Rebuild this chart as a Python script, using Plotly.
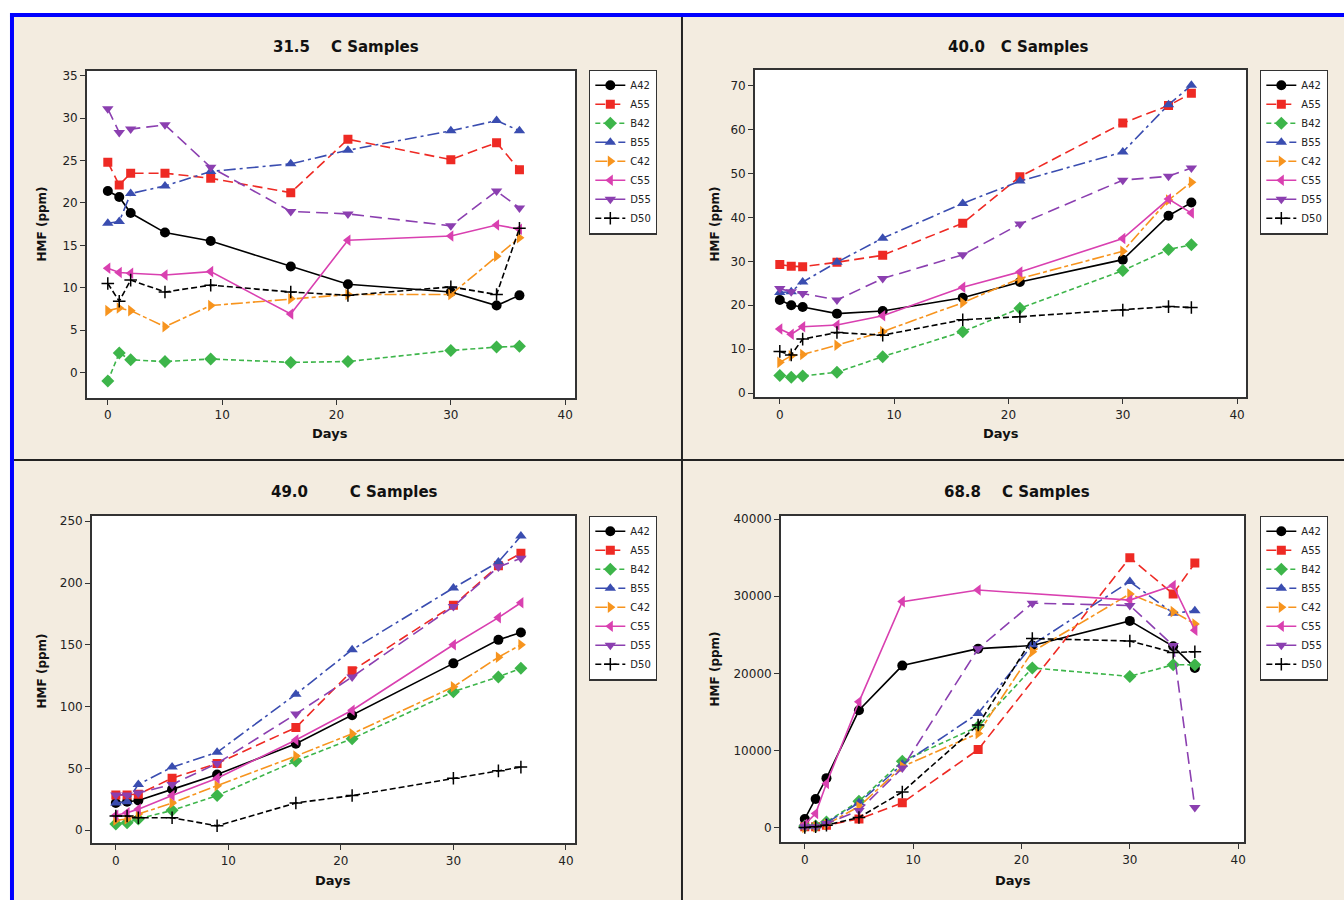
import plotly.graph_objects as go

W, H = 1344, 900

days = [0, 1, 2, 5, 9, 16, 21, 30, 34, 36]
series_names = ["A42", "A55", "B42", "B55", "C42", "C55", "D55", "D50"]

# 31.5 C
t31_A42 = [21.4, 20.7, 18.8, 16.5, 15.5, 12.5, 10.4, 9.5, 7.9, 9.1]
t31_A55 = [24.8, 22.1, 23.5, 23.5, 22.9, 21.2, 27.5, 25.1, 27.1, 23.9]
t31_B42 = [-1.0, 2.3, 1.5, 1.3, 1.6, 1.2, 1.3, 2.6, 3.0, 3.1]
t31_B55 = [17.6, 17.8, 21.1, 22.0, 23.7, 24.6, 26.2, 28.5, 29.7, 28.5]
t31_C42 = [7.3, 7.6, 7.3, 5.4, 7.9, 8.7, 9.2, 9.2, 13.7, 15.9]
t31_C55 = [12.3, 11.8, 11.7, 11.5, 11.9, 6.9, 15.6, 16.1, 17.4, 16.9]
t31_D55 = [31.1, 28.3, 28.7, 29.2, 24.2, 19.0, 18.7, 17.3, 21.4, 19.4]
t31_D50 = [10.5, 8.4, 10.9, 9.5, 10.3, 9.5, 9.1, 10.1, 9.2, 17.0]

# 40.0 C
t40_A42 = [21.2, 20.0, 19.6, 18.1, 18.7, 21.7, 25.3, 30.4, 40.4, 43.4]
t40_A55 = [29.3, 28.9, 28.8, 29.8, 31.4, 38.7, 49.3, 61.5, 65.5, 68.3]
t40_B42 = [4.0, 3.6, 3.9, 4.75, 8.3, 14.0, 19.3, 27.9, 32.7, 33.8]
t40_B55 = [22.9, 23.1, 25.3, 29.8, 35.3, 43.2, 48.3, 54.9, 65.7, 70.1]
t40_C42 = [7.0, 8.5, 8.8, 10.9, 14.0, 20.6, 26.1, 32.3, 44.0, 48.0]
t40_C55 = [14.6, 13.4, 15.1, 15.5, 17.6, 24.1, 27.6, 35.2, 44.2, 41.0]
t40_D55 = [23.8, 23.1, 22.7, 21.2, 26.1, 31.5, 38.5, 48.5, 49.4, 51.3]
t40_D50 = [9.5, 8.7, 12.3, 13.8, 13.2, 16.7, 17.4, 18.9, 19.7, 19.5]

# 49.0 C
t49_A42 = [22, 23, 24, 33, 45, 70, 93, 135, 154, 160]
t49_A55 = [28.5, 28.5, 29, 42, 54, 83, 129, 182, 214, 224]
t49_B42 = [5, 6, 9, 16, 28, 56, 74, 112, 124, 131]
t49_B55 = [22, 23, 37, 51, 63, 110, 146, 196, 217, 238]
t49_C42 = [8, 9, 13, 22, 36, 60, 78, 116, 140, 150]
t49_C55 = [12, 14, 17, 28, 42, 73, 97, 150, 172, 184]
t49_D55 = [28.5, 28.5, 30, 37, 54, 94, 124, 181, 213, 220]
t49_D50 = [11.5, 11.5, 10, 10, 3.5, 22, 28, 42, 48, 51]

# 68.8 C
t68_A42 = [1100, 3700, 6400, 15200, 21000, 23200, 23600, 26800, 23500, 20700]
t68_A55 = [100, 100, 300, 1100, 3200, 10100, None, 35000, 30300, 34300]
t68_B42 = [200, 200, 700, 3400, 8600, 13100, 20700, 19600, 21100, 21100]
t68_B55 = [100, 200, 600, 3200, 8200, 14800, 23700, 31900, 27800, 28100]
t68_C42 = [0, 100, 400, 2700, 7900, 12200, 22800, 30300, 28000, 26400]
t68_C55 = [400, 1800, 5700, 16300, 29300, 30800, None, 29500, 31400, 25600]
t68_D55 = [100, 100, 500, 2200, 7700, 23200, 29100, 28800, 23600, 2600]
t68_D50 = [0, 100, 300, 1300, 4600, 13300, 24500, 24200, 22700, 22800]

panel_titles = ["31.5\u00a0\u00a0\u00a0\u00a0C Samples", "40.0\u00a0\u00a0\u00a0C Samples",
                "49.0\u00a0\u00a0\u00a0\u00a0\u00a0\u00a0\u00a0\u00a0C Samples", "68.8\u00a0\u00a0\u00a0\u00a0C Samples"]
panel_data = [
    [t31_A42, t31_A55, t31_B42, t31_B55, t31_C42, t31_C55, t31_D55, t31_D50],
    [t40_A42, t40_A55, t40_B42, t40_B55, t40_C42, t40_C55, t40_D55, t40_D50],
    [t49_A42, t49_A55, t49_B42, t49_B55, t49_C42, t49_C55, t49_D55, t49_D50],
    [t68_A42, t68_A55, t68_B42, t68_B55, t68_C42, t68_C55, t68_D55, t68_D50],
]
y_ticks = [list(range(0, 36, 5)), list(range(0, 71, 10)), list(range(0, 251, 50)), list(range(0, 40001, 10000))]

colors = ["#000000", "#EE2A24", "#3DB54A", "#3A4DB0", "#F7941E", "#D940B0", "#8B3FB0", "#000000"]
symbols = ["circle", "square", "diamond", "triangle-up", "triangle-right", "triangle-left", "triangle-down", "cross-thin"]
dashes = ["solid", "10px,5px", "5px,3px", "12px,4px,3px,4px", "12px,3px,4px,3px", "solid", "12px,6px", "6px,3px"]
msizes = [10, 9, 10, 10, 10, 10, 10, 9]

# plot areas in pixels: (left, right, top, bottom), axis ranges
areas = [(87, 576, 68, 398), (756, 1248, 67, 397), (92, 576, 516, 846), (782, 1246, 516, 845)]
xranges = [(-1.83, 40.87), (-2.18, 40.79), (-2.13, 40.82), (-2.21, 40.55)]
yranges = [(-3.04, 35.6), (-0.97, 73.7), (-10.7, 254.6), (-1933, 40464)]
legend_pos = [(590, 67), (1262, 67), (590, 516), (1262, 516)]
title_pos = [(347, 44), (1020, 44), (355, 492), (1019, 492)]
days_pos = [(330, 433), (1002, 433), (333, 883), (1015, 883)]
ylab_pos = [(42, 222), (716, 222), (42, 672), (716, 670)]

fig = go.Figure()
layout = dict(width=W, height=H, margin=dict(l=0, r=0, t=0, b=0),
              paper_bgcolor="white", plot_bgcolor="white", showlegend=True)

font_main = "DejaVu Sans"
beige = "#F3ECE0"
shapes = [
    dict(type="rect", xref="paper", yref="paper", x0=12 / W, x1=1.01, y0=-0.01, y1=1 - 12 / H,
         fillcolor=beige, line=dict(width=0), layer="below"),
]
annotations = []
for p in range(4):
    sfx = "" if p == 0 else str(p + 1)
    leg = "legend" + sfx
    for i, name in enumerate(series_names):
        fig.add_trace(go.Scatter(
            x=days, y=panel_data[p][i], name=name, mode="lines+markers",
            xaxis="x" + sfx, yaxis="y" + sfx, legend=leg, connectgaps=True,
            line=dict(color=colors[i], width=1.6, dash=dashes[i]),
            marker=dict(symbol=symbols[i], size=msizes[i], color=colors[i],
                        line=dict(color=colors[i], width=1.5 if symbols[i] == "cross-thin" else 0)),
        ))
    l, r, t, b = areas[p]
    shapes.append(dict(type="rect", xref="paper", yref="paper", x0=l / W, x1=r / W,
                       y0=1 - b / H, y1=1 - t / H, fillcolor="white", line=dict(width=0), layer="below"))
    axcommon = dict(showline=True, mirror=True, linecolor="#333333", linewidth=1.5,
                    ticks="outside", ticklen=5, tickwidth=1.2, tickcolor="#333333",
                    showgrid=False, zeroline=False,
                    tickfont=dict(family=font_main, size=12, color="#222222"))
    layout["xaxis" + sfx] = dict(axcommon, domain=[l / W, r / W], range=list(xranges[p]),
                                 tickvals=[0, 10, 20, 30, 40], anchor="y" + sfx)
    layout["yaxis" + sfx] = dict(axcommon, domain=[1 - b / H, 1 - t / H], range=list(yranges[p]),
                                 tickvals=y_ticks[p], tickformat="d", anchor="x" + sfx)
    lx, ly = legend_pos[p]
    layout[leg] = dict(x=lx / W, y=1 - ly / H, xanchor="left", yanchor="top",
                       bgcolor="white", bordercolor="#333333", borderwidth=1.2,
                       font=dict(family=font_main, size=10, color="#222222"),
                       itemwidth=30, tracegroupgap=0)
    tx, ty = title_pos[p]
    annotations.append(dict(text="<b>" + panel_titles[p] + "</b>", x=tx / W, y=1 - ty / H,
                            xref="paper", yref="paper", showarrow=False, xanchor="center", yanchor="middle",
                            font=dict(family=font_main, size=15, color="#111111")))
    dx, dy = days_pos[p]
    annotations.append(dict(text="<b>Days</b>", x=dx / W, y=1 - dy / H, xref="paper", yref="paper",
                            showarrow=False, xanchor="center", yanchor="middle",
                            font=dict(family=font_main, size=13, color="#111111")))
    hx, hy = ylab_pos[p]
    annotations.append(dict(text="<b>HMF (ppm)</b>", x=hx / W, y=1 - hy / H, xref="paper", yref="paper",
                            showarrow=False, xanchor="center", yanchor="middle", textangle=-90,
                            font=dict(family=font_main, size=12, color="#111111")))

shapes += [
    dict(type="line", xref="paper", yref="paper", x0=10 / W, x1=1.01, y0=1 - 12 / H, y1=1 - 12 / H,
         line=dict(color="#0000FF", width=4), layer="above"),
    dict(type="line", xref="paper", yref="paper", x0=12 / W, x1=12 / W, y0=-0.01, y1=1 - 10 / H,
         line=dict(color="#0000FF", width=4), layer="above"),
    dict(type="line", xref="paper", yref="paper", x0=683 / W, x1=683 / W, y0=-0.01, y1=1 - 14 / H,
         line=dict(color="#222222", width=2), layer="below"),
    dict(type="line", xref="paper", yref="paper", x0=14 / W, x1=1.01, y0=1 - 460 / H, y1=1 - 460 / H,
         line=dict(color="#222222", width=2), layer="below"),
]
layout["shapes"] = shapes
layout["annotations"] = annotations
fig.update_layout(**layout)
fig.write_html("out.html", config={"displayModeBar": False},
               post_script="document.body.style.margin='0';document.body.style.padding='0';")
